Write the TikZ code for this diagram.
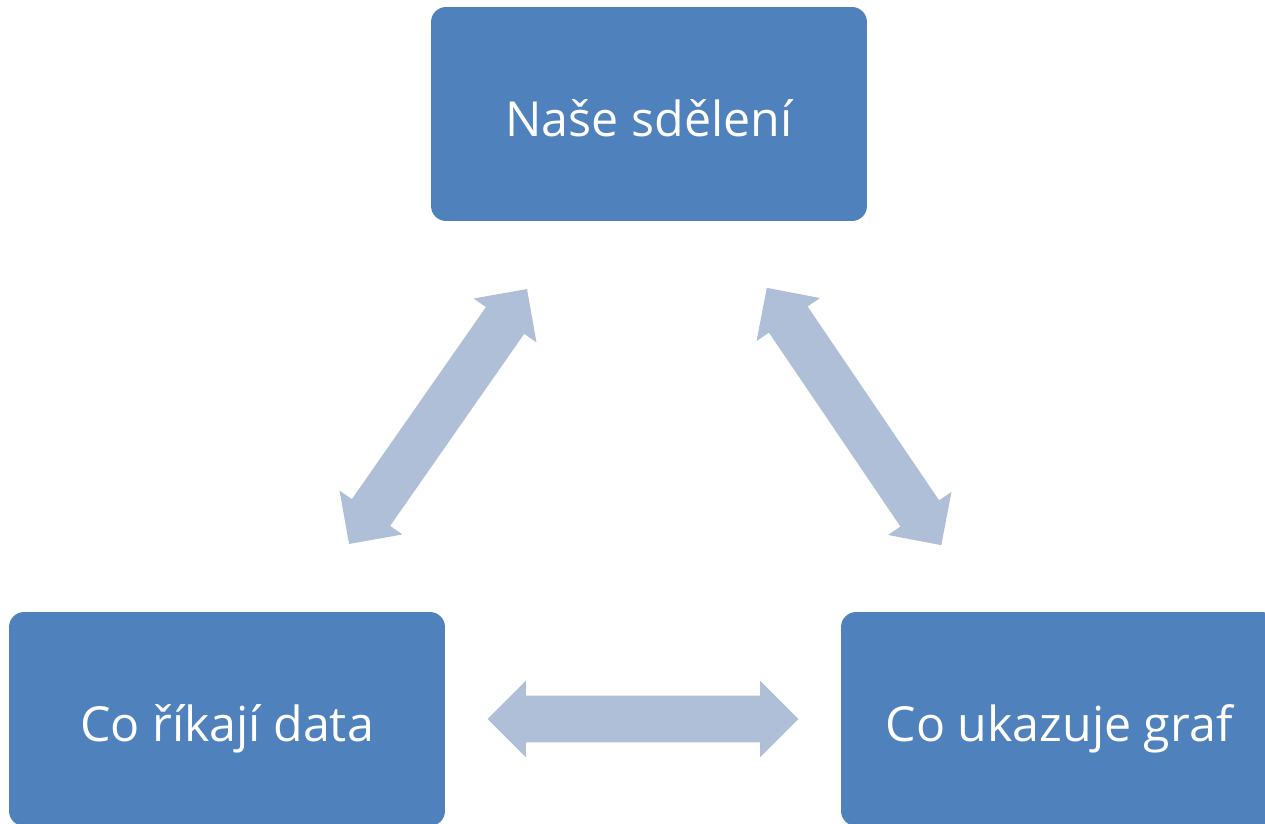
\documentclass[tikz,border=0pt]{standalone}
\usepackage{fontspec}
\setmainfont{Open Sans}
\usetikzlibrary{shapes.arrows}
\definecolor{boxblue}{HTML}{4F81BD}
\definecolor{arrowblue}{HTML}{B0BFD8}

\begin{document}
\begin{tikzpicture}[x=0.02cm, y=-0.02cm,
  box/.style={fill=boxblue, rounded corners=0.3cm, minimum width=8.72cm,
    minimum height=4.28cm, text=white, text height=0.9cm, text depth=0cm,
    font=\fontsize{27.5}{33}\selectfont},
  dblarrow/.style={double arrow, fill=arrowblue, draw=none, inner xsep=0pt,
    inner ysep=0.46cm, minimum height=6.22cm, minimum width=1.52cm,
    double arrow head extend=0.3cm, sloped}]
\clip (0,0) rectangle (1265,824);
\node[box] (top) at (649,114) {Naše sdělení};
\node[box] (data) at (227,719) {Co říkají data};
\node[box] (graf) at (1059,719) {Co ukazuje graf};

\path (data) -- node[dblarrow]{} (top);
\path (top) -- node[dblarrow]{} (graf);
\path (data) -- node[dblarrow]{} (graf);
\end{tikzpicture}
\end{document}
